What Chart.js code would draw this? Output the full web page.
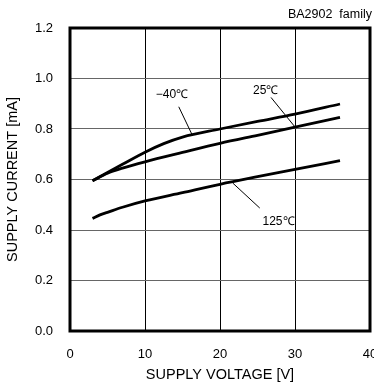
<!DOCTYPE html>
<html>
<head>
<meta charset="utf-8">
<script src="https://cdn.jsdelivr.net/npm/chart.js@4.4.1/dist/chart.umd.min.js"></script>
<style>
  body { margin: 0; background: #fff; }
  #wrap { width: 374px; height: 390px; }
</style>
</head>
<body>
<div id="wrap"><canvas id="myChart" width="374" height="390"></canvas></div>
<script>
// supply voltage [V] sample points
var voltageM40 = [3, 5, 7, 10, 12.5, 15, 20, 25, 30, 36];
var voltage25 = [3, 5, 7, 10, 15, 20, 25, 30, 36];
var voltage125 = [3, 4, 5, 7, 10, 15, 20, 25, 30, 36];

// supply current [mA]
var currentM40 = [0.595, 0.628, 0.66, 0.708, 0.742, 0.768, 0.80, 0.83, 0.859, 0.899];
var current25 = [0.595, 0.625, 0.645, 0.67, 0.707, 0.743, 0.775, 0.807, 0.846];
var current125 = [0.446, 0.46, 0.47, 0.49, 0.515, 0.548, 0.581, 0.611, 0.64, 0.675];

var xTicks = [0, 10, 20, 30, 40];
var yTicks = [0.0, 0.2, 0.4, 0.6, 0.8, 1.0, 1.2];

// curve labels: text, text anchor (V, mA), leader line start and end (V, mA)
var curveLabels = [
  { text: "\u221240\u2103", at: [13.6, 0.935], from: [14.5, 0.888], to: [16.3, 0.776] },
  { text: "25\u2103", at: [26.1, 0.95], from: [26.8, 0.925], to: [30.0, 0.808] },
  { text: "125\u2103", at: [27.8, 0.432], from: [21.7, 0.586], to: [25.3, 0.487] },
];

function toPoints(xs, ys) {
  return xs.map(function (x, i) {
    return { x: x, y: ys[i] };
  });
}

var FONT = "'Liberation Sans', Arial, sans-serif";

var curveStyle = {
  borderColor: "#000",
  borderWidth: 2.8,
  pointRadius: 0,
  fill: false,
  cubicInterpolationMode: "monotone",
};

var frameAndLabels = {
  id: "frameAndLabels",
  afterDraw: function (chart) {
    var c = chart.ctx;
    var a = chart.chartArea;
    var xs = chart.scales.x;
    var ys = chart.scales.y;
    c.save();
    // thick frame
    c.strokeStyle = "#000";
    c.lineWidth = 3;
    c.strokeRect(a.left, a.top, a.right - a.left, a.bottom - a.top);

    // curve labels with leader lines
    c.lineWidth = 1;
    c.fillStyle = "#000";
    c.font = "12px " + FONT;
    c.textAlign = "center";
    c.textBaseline = "middle";
    curveLabels.forEach(function (l) {
      c.beginPath();
      c.moveTo(xs.getPixelForValue(l.from[0]), ys.getPixelForValue(l.from[1]));
      c.lineTo(xs.getPixelForValue(l.to[0]), ys.getPixelForValue(l.to[1]));
      c.stroke();
      c.fillText(l.text, xs.getPixelForValue(l.at[0]), ys.getPixelForValue(l.at[1]));
    });

    // part family note
    c.font = "12.5px " + FONT;
    c.textAlign = "right";
    c.fillText("BA2902  family", 372, 15);
    c.restore();
  },
};

var ctx = document.getElementById("myChart").getContext("2d");
var myChart = new Chart(ctx, {
  type: "line",
  data: {
    datasets: [
      Object.assign({ label: "-40", data: toPoints(voltageM40, currentM40) }, curveStyle),
      Object.assign({ label: "25", data: toPoints(voltage25, current25) }, curveStyle),
      Object.assign({ label: "125", data: toPoints(voltage125, current125) }, curveStyle),
    ],
  },
  options: {
    responsive: false,
    animation: false,
    layout: {
      padding: { top: 28, right: 4, left: 0, bottom: 0 },
    },
    plugins: {
      legend: { display: false },
      tooltip: { enabled: false },
    },
    scales: {
      x: {
        type: "linear",
        min: xTicks[0],
        max: xTicks[xTicks.length - 1],
        afterBuildTicks: function (s) {
          s.ticks = xTicks.map(function (v) { return { value: v }; });
        },
        afterFit: function (s) {
          s.height = 59;
          s.paddingLeft = 0;
          s.paddingRight = 0;
        },
        ticks: {
          color: "#000",
          padding: 16,
          maxRotation: 0,
          font: { family: FONT, size: 13 },
        },
        grid: { color: "#000", lineWidth: 1, drawTicks: false },
        border: { display: false },
        title: {
          display: true,
          text: "SUPPLY VOLTAGE [V]",
          color: "#000",
          font: { family: FONT, size: 14.5 },
          padding: { top: 0, bottom: 6 },
        },
      },
      y: {
        type: "linear",
        min: yTicks[0],
        max: yTicks[yTicks.length - 1],
        afterBuildTicks: function (s) {
          s.ticks = yTicks.map(function (v) { return { value: v }; });
        },
        afterFit: function (s) {
          s.width = 70;
          s.paddingTop = 0;
          s.paddingBottom = 0;
        },
        ticks: {
          color: "#000",
          padding: 17,
          font: { family: FONT, size: 13 },
          callback: function (v) { return Number(v).toFixed(1); },
        },
        grid: { color: "#666", lineWidth: 1, drawTicks: false },
        border: { display: false },
        title: {
          display: true,
          text: "SUPPLY CURRENT [mA]",
          color: "#000",
          font: { family: FONT, size: 14.5 },
          padding: { top: 4, bottom: 0 },
        },
      },
    },
  },
  plugins: [frameAndLabels],
});
</script>
</body>
</html>
